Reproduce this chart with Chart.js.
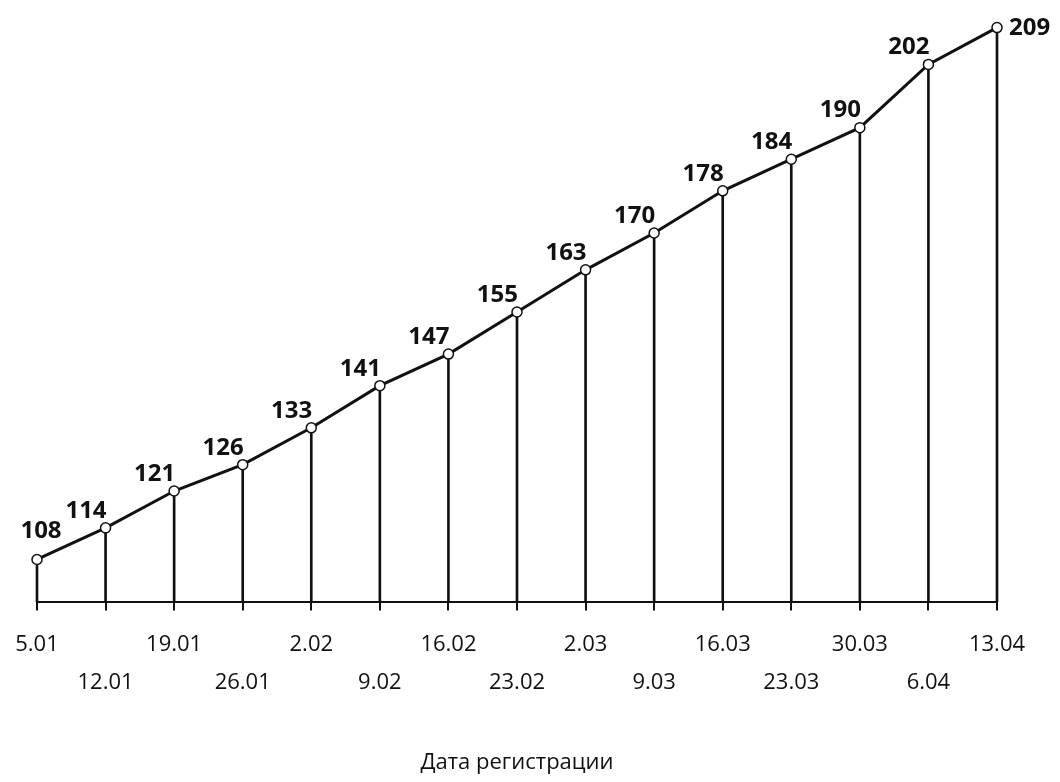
<!DOCTYPE html>
<html>
<head>
<meta charset="utf-8">
<script src="https://cdn.jsdelivr.net/npm/chart.js@4/dist/chart.umd.min.js"></script>
<style>
  html, body { margin: 0; padding: 0; background: #fff; }
  #wrap { width: 1060px; height: 782px; }
</style>
</head>
<body>
<div id="wrap"><canvas id="regChart" width="1060" height="782"></canvas></div>
<script>
const dates = ["5.01", "12.01", "19.01", "26.01", "2.02", "9.02", "16.02", "23.02",
  "2.03", "9.03", "16.03", "23.03", "30.03", "6.04", "13.04"];
const counts = [108, 114, 121, 126, 133, 141, 147, 155, 163, 170, 178, 184, 190, 202, 209];
const axisTitle = "Дата регистрации";
const yMin = 100;
const yMax = 213;

// value labels next to each point
const valueLabels = {
  id: "valueLabels",
  afterDatasetsDraw(chart) {
    const meta = chart.getDatasetMeta(1);
    const ctx = chart.ctx;
    ctx.save();
    ctx.fillStyle = "#111";
    ctx.font = "bold 24px 'Open Sans'";
    ctx.textBaseline = "middle";
    meta.data.forEach((pt, i) => {
      const last = i === counts.length - 1;
      if (i === 0) {
        ctx.textAlign = "center";
        ctx.fillText(String(counts[i]), pt.x + 4, pt.y - 28);
      } else if (last) {
        ctx.textAlign = "left";
        ctx.fillText(String(counts[i]), pt.x + 12, pt.y + 1);
      } else {
        ctx.textAlign = "right";
        ctx.fillText(String(counts[i]), pt.x + 1, pt.y - 17);
      }
    });
    ctx.restore();
  }
};

new Chart(document.getElementById("regChart"), {
  data: {
    labels: dates,
    datasets: [
      {
        // drop lines from each point down to the axis
        type: "bar",
        data: counts.map((v) => [yMin, v]),
        backgroundColor: "#111",
        barThickness: 2,
        clip: false,
        order: 2
      },
      {
        type: "line",
        data: counts,
        borderColor: "#111",
        borderWidth: 3,
        pointRadius: 5,
        pointBackgroundColor: "#fff",
        pointBorderColor: "#111",
        pointBorderWidth: 1.5,
        tension: 0,
        clip: false,
        order: 1
      }
    ]
  },
  plugins: [valueLabels],
  options: {
    responsive: false,
    animation: false,
    layout: { padding: { left: 37, right: 63, top: 5, bottom: 0 } },
    plugins: { legend: { display: false }, tooltip: { enabled: false } },
    scales: {
      x: {
        type: "category",
        offset: false,
        grid: {
          offset: false,
          drawOnChartArea: false,
          drawTicks: true,
          tickLength: 9,
          color: "#111",
          lineWidth: 2
        },
        border: { display: true, color: "#111", width: 2 },
        ticks: {
          color: "#111",
          padding: 15,
          maxRotation: 0,
          autoSkip: false,
          font: { family: "'Open Sans'", size: 22, lineHeight: 38 / 22 },
          callback: (value, index) => (index % 2 === 0 ? [dates[index], ""] : ["", dates[index]])
        },
        title: {
          display: true,
          text: axisTitle,
          color: "#111",
          font: { family: "'Open Sans'", size: 22, lineHeight: 1.2 },
          padding: { top: 33, bottom: 6 }
        }
      },
      y: {
        display: false,
        min: yMin,
        max: yMax
      }
    }
  }
});
</script>
</body>
</html>
